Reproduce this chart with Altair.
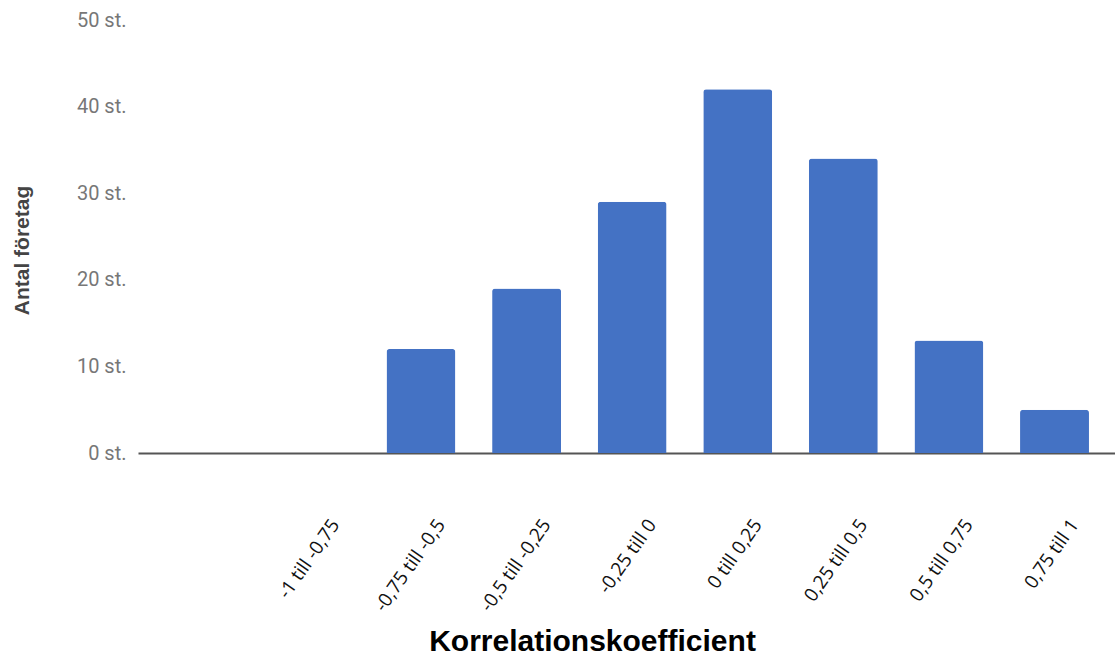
import altair as alt
import pandas as pd

categories = ["-1 till -0,75", "-0,75 till -0,5", "-0,5 till -0,25", "-0,25 till 0",
              "0 till 0,25", "0,25 till 0,5", "0,5 till 0,75", "0,75 till 1"]
counts = [0, 12, 19, 29, 42, 34, 13, 5]
y_ticks = [0, 10, 20, 30, 40, 50]

df = pd.DataFrame({"kat": categories, "antal": counts})

chart = alt.Chart(df).mark_bar(color="#4472C4", cornerRadiusTopLeft=3, cornerRadiusTopRight=3).encode(
    x=alt.X("kat:N", sort=categories,
            scale=alt.Scale(paddingInner=0.347, paddingOuter=0.8, align=0.846),
            axis=alt.Axis(title="Korrelationskoefficient", labelAngle=-55, labelAlign="right",
                          labelBaseline="middle", labelPadding=68, labelOffset=20,
                          labelFont="Open Sans", labelFontSize=19, labelColor="#111111",
                          ticks=False, domainColor="#555555", domainWidth=2,
                          titleFont="Liberation Sans", titleFontSize=30, titleFontWeight="bold",
                          titleColor="#000000", titleX=454, titleY=188, titleAlign="center",
                          titleBaseline="middle", labelOverlap=False)),
    y=alt.Y("antal:Q", scale=alt.Scale(domain=[0, 50], nice=False),
            axis=alt.Axis(title="Antal företag", values=y_ticks, labelExpr="datum.value + ' st.'",
                          labelFont="Roboto", labelFontSize=20, labelColor="#777777",
                          labelPadding=12, ticks=False, domain=False, grid=False,
                          titleFont="Liberation Sans", titleFontSize=21, titleFontWeight="bold",
                          titleColor="#444444", titleX=-116, titleY=230, titleAlign="center",
                          titleBaseline="middle", titleAngle=-90))
).properties(
    width=977, height=433,
    autosize=alt.AutoSizeParams(type="none"),
    padding={"left": 138, "top": 20, "right": 0, "bottom": 217}
).configure_view(stroke=None).configure_axis(grid=False)

chart.save("out.html", embed_options={"renderer": "svg", "actions": False})
